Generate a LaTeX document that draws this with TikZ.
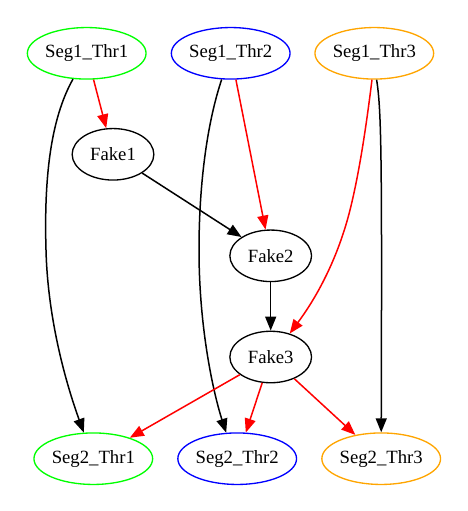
\documentclass[tikz,border=0pt]{standalone}
\usepackage{fontspec}
\setmainfont{Liberation Serif}
\usetikzlibrary{arrows.meta,shapes.geometric}
\definecolor{gvgreen}{RGB}{0,255,0}
\definecolor{gvblue}{RGB}{0,0,255}
\definecolor{gvorange}{RGB}{255,165,0}
\definecolor{gvred}{RGB}{255,0,0}
\begin{document}
\begin{tikzpicture}[x=1pt,y=-1pt,
  gvnode/.style={ellipse,draw,line width=1.33pt,inner sep=0pt,minimum height=51.5pt,
    font=\fontsize{18.7}{22}\selectfont},
  segnode/.style={gvnode,minimum width=118.7pt},
  fakenode/.style={gvnode,minimum width=81.7pt},
  edge/.style={line width=1.5pt,-{Triangle[length=14pt,width=11pt]}},
  rededge/.style={edge,color=gvred}]
\useasboundingbox (0,0) rectangle (467,511);
\node[segnode,draw=gvgreen] (s11) at (86.7,53.3) {Seg1\_Thr1};
\node[segnode,draw=gvblue] (s12) at (230.7,53.3) {Seg1\_Thr2};
\node[segnode,draw=gvorange] (s13) at (374.3,53.3) {Seg1\_Thr3};
\node[fakenode] (f1) at (113,154.3) {Fake1};
\node[fakenode] (f2) at (270.7,255.8) {Fake2};
\node[fakenode] (f3) at (270.7,357) {Fake3};
\node[segnode,draw=gvgreen] (s21) at (93.3,458.7) {Seg2\_Thr1};
\node[segnode,draw=gvblue] (s22) at (237.2,458.7) {Seg2\_Thr2};
\node[segnode,draw=gvorange] (s23) at (381.2,458.7) {Seg2\_Thr3};
\coordinate (m1) at (46,250);
\coordinate (m2) at (199,250);
\coordinate (m3) at (350,210);
% black edges
\draw[edge] (s11.-118) .. controls (50,120) and (44,180) .. (m1) .. controls (48,330) and (72,400) .. (s21.110);
\draw[edge] (s12.-109) .. controls (208,120) and (199,180) .. (m2) .. controls (199,330) and (214,395) .. (s22.113);
\draw[edge] (f1) -- (f2);
\draw[edge] (f2) -- (f3);
\draw[edge] (s13.-85) .. controls (381.5,110) and (382,160) .. (s23.north);
% red edges
\draw[rededge] (s11) -- (f1);
\draw[rededge] (s12) -- (f2);
\draw[rededge] (s13.-95) .. controls (367,120) and (360,170) .. (m3) .. controls (340,250) and (322,290) .. (f3.51);
\draw[rededge] (f3) -- (s21);
\draw[rededge] (f3) -- (s22);
\draw[rededge] (f3) -- (s23);
\end{tikzpicture}
\end{document}
